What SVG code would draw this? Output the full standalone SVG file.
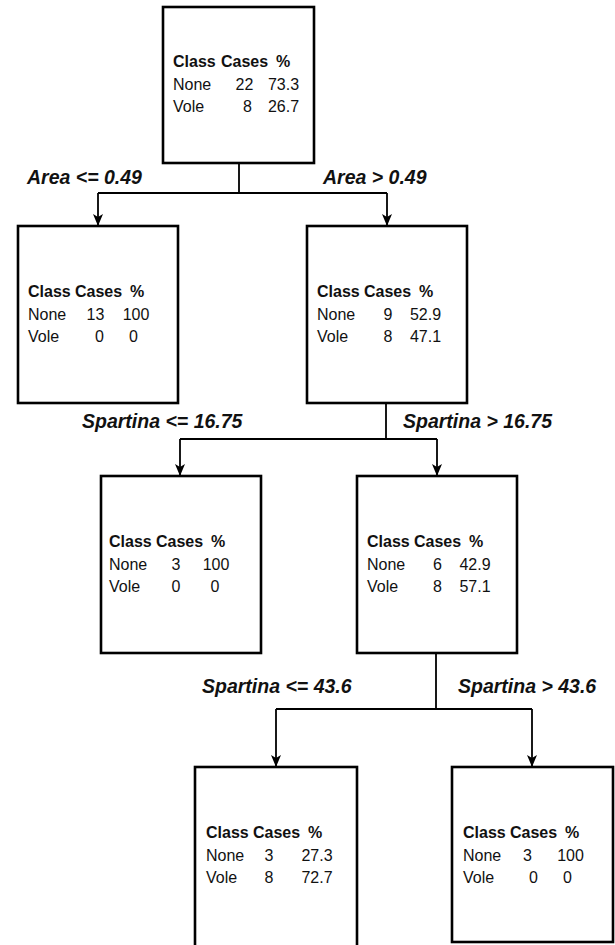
<svg xmlns="http://www.w3.org/2000/svg" width="615" height="945" viewBox="0 0 615 945">
<defs>
<marker id="arr" viewBox="0 0 12 10" refX="12" refY="5" markerWidth="12" markerHeight="10" markerUnits="userSpaceOnUse" orient="auto">
<path d="M0,0 L12,5 L0,10 L3,5 z" fill="#000"/>
</marker>
<style>
.box{fill:#fff;stroke:#000;stroke-width:2.6}
.con{fill:none;stroke:#000;stroke-width:1.8}
.t{font-family:"Liberation Sans",Arial,sans-serif;font-size:16px;fill:#111}
.h{font-weight:bold}
.m{text-anchor:middle}
.lbl{font-family:"Liberation Sans",Arial,sans-serif;font-size:19.5px;font-weight:bold;font-style:italic;fill:#111}
</style>
</defs>
<rect width="615" height="945" fill="#fff"/>
<g id="connectors">
<path class="con" d="M239,163 V193 M98,193 H387"/>
<path class="con" d="M98,193 V226" marker-end="url(#arr)"/>
<path class="con" d="M387,193 V226" marker-end="url(#arr)"/>
<path class="con" d="M386,403 V439 M180,439 H437"/>
<path class="con" d="M180,439 V476" marker-end="url(#arr)"/>
<path class="con" d="M437,439 V476" marker-end="url(#arr)"/>
<path class="con" d="M436,653 V709 M276,709 H532"/>
<path class="con" d="M276,709 V767" marker-end="url(#arr)"/>
<path class="con" d="M532,709 V767" marker-end="url(#arr)"/>
<text class="lbl" x="27" y="184">Area &lt;= 0.49</text>
<text class="lbl" x="323" y="184">Area &gt; 0.49</text>
<text class="lbl" x="82" y="428">Spartina &lt;= 16.75</text>
<text class="lbl" x="403" y="428">Spartina &gt; 16.75</text>
<text class="lbl" x="202" y="693">Spartina &lt;= 43.6</text>
<text class="lbl" x="458" y="693">Spartina &gt; 43.6</text>
</g>
<g id="root">
<rect class="box" x="163" y="7" width="151" height="156"/>
<text class="t h" x="173" y="67">Class</text><text class="t h" x="221" y="67">Cases</text><text class="t h" x="276" y="67">%</text>
<text class="t" x="173" y="90">None</text><text class="t m" x="244.5" y="90">22</text><text class="t m" x="283.5" y="90">73.3</text>
<text class="t" x="173" y="112">Vole</text><text class="t m" x="247.5" y="112">8</text><text class="t m" x="283.5" y="112">26.7</text>
</g>
<g id="n_area_le">
<rect class="box" x="18" y="226" width="160" height="177"/>
<text class="t h" x="28" y="297">Class</text><text class="t h" x="75" y="297">Cases</text><text class="t h" x="130" y="297">%</text>
<text class="t" x="28" y="320">None</text><text class="t m" x="95.5" y="320">13</text><text class="t m" x="136" y="320">100</text>
<text class="t" x="28" y="342">Vole</text><text class="t m" x="99.5" y="342">0</text><text class="t m" x="133.5" y="342">0</text>
</g>
<g id="n_area_gt">
<rect class="box" x="307" y="226" width="160" height="177"/>
<text class="t h" x="317" y="297">Class</text><text class="t h" x="364" y="297">Cases</text><text class="t h" x="419" y="297">%</text>
<text class="t" x="317" y="320">None</text><text class="t m" x="388" y="320">9</text><text class="t m" x="425.5" y="320">52.9</text>
<text class="t" x="317" y="342">Vole</text><text class="t m" x="388" y="342">8</text><text class="t m" x="425.5" y="342">47.1</text>
</g>
<g id="n_sp_le_16">
<rect class="box" x="101" y="476" width="160" height="177"/>
<text class="t h" x="109" y="547">Class</text><text class="t h" x="156" y="547">Cases</text><text class="t h" x="211" y="547">%</text>
<text class="t" x="109" y="570">None</text><text class="t m" x="176" y="570">3</text><text class="t m" x="216" y="570">100</text>
<text class="t" x="109" y="592">Vole</text><text class="t m" x="176" y="592">0</text><text class="t m" x="215" y="592">0</text>
</g>
<g id="n_sp_gt_16">
<rect class="box" x="357" y="476" width="160" height="177"/>
<text class="t h" x="367" y="547">Class</text><text class="t h" x="414" y="547">Cases</text><text class="t h" x="469" y="547">%</text>
<text class="t" x="367" y="570">None</text><text class="t m" x="437.5" y="570">6</text><text class="t m" x="475" y="570">42.9</text>
<text class="t" x="367" y="592">Vole</text><text class="t m" x="437.5" y="592">8</text><text class="t m" x="475" y="592">57.1</text>
</g>
<g id="n_sp_le_43">
<rect class="box" x="195" y="767" width="162" height="190"/>
<text class="t h" x="206" y="838">Class</text><text class="t h" x="253" y="838">Cases</text><text class="t h" x="308" y="838">%</text>
<text class="t" x="206" y="861">None</text><text class="t m" x="269" y="861">3</text><text class="t m" x="317" y="861">27.3</text>
<text class="t" x="206" y="883">Vole</text><text class="t m" x="269" y="883">8</text><text class="t m" x="317" y="883">72.7</text>
</g>
<g id="n_sp_gt_43">
<rect class="box" x="452" y="767" width="161" height="175"/>
<text class="t h" x="463" y="838">Class</text><text class="t h" x="510" y="838">Cases</text><text class="t h" x="565" y="838">%</text>
<text class="t" x="463" y="861">None</text><text class="t m" x="527.5" y="861">3</text><text class="t m" x="570.5" y="861">100</text>
<text class="t" x="463" y="883">Vole</text><text class="t m" x="533.5" y="883">0</text><text class="t m" x="567.5" y="883">0</text>
</g>
</svg>
